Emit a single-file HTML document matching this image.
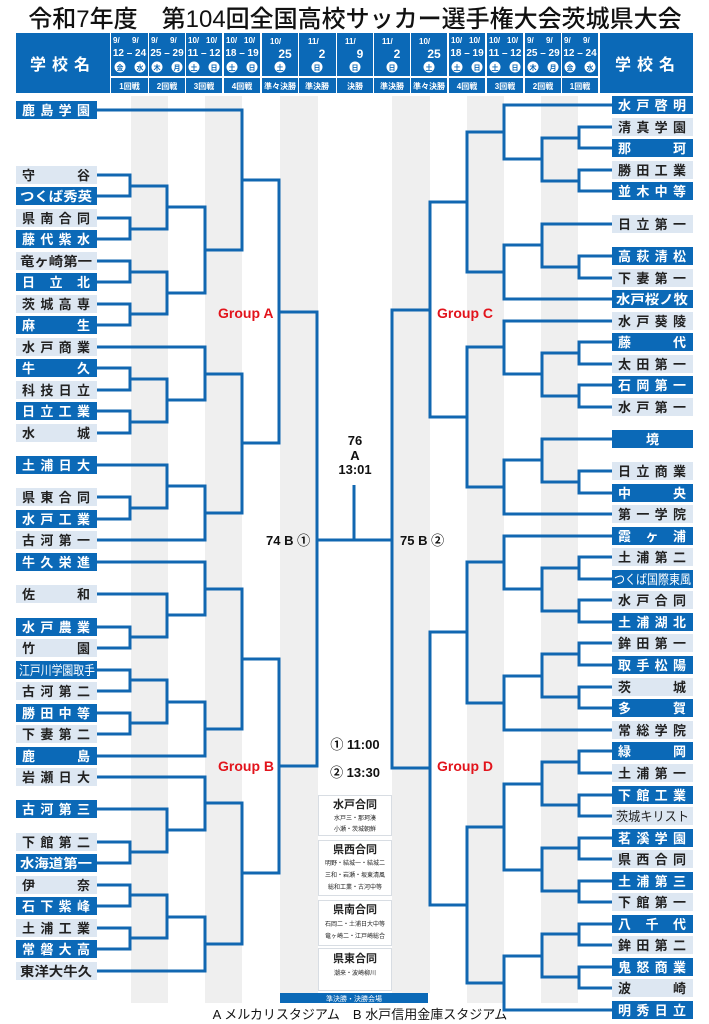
<!DOCTYPE html>
<html><head><meta charset="utf-8"><style>
html,body{margin:0;padding:0;background:#fff}
svg{display:block}
text{font-family:"Liberation Sans","Noto Sans CJK JP",sans-serif}
</style></head><body>
<svg width="709" height="1024" viewBox="0 0 709 1024" xmlns="http://www.w3.org/2000/svg">
<text x="355" y="27" font-size="24" text-anchor="middle" fill="#111" font-family="Liberation Sans,Noto Sans CJK JP,sans-serif" font-weight="500">令和7年度　第104回全国高校サッカー選手権大会茨城県大会</text>

<!-- gray stripes -->
<g fill="#efefef">
<rect x="131" y="96" width="37" height="907"/>
<rect x="205" y="96" width="37" height="907"/>
<rect x="280" y="96" width="38" height="897"/>
<rect x="392" y="96" width="38" height="897"/>
<rect x="467" y="96" width="37" height="907"/>
<rect x="541" y="96" width="37" height="907"/>
</g>

<!-- header -->
<g fill="#0b69b7">
<rect x="16" y="33" width="94" height="60"/>
<rect x="600" y="33" width="93" height="60"/>
</g>
<text x="63" y="70" font-size="16" font-weight="bold" fill="#fff" text-anchor="middle" letter-spacing="6">学校名</text>
<text x="648" y="70" font-size="16" font-weight="bold" fill="#fff" text-anchor="middle" letter-spacing="6">学校名</text>

<g id="hdr" font-weight="bold">
<!-- double cells -->
<g>
<rect x="111" y="33" width="37" height="43" fill="#0b69b7"/><rect x="111" y="78" width="37" height="15" fill="#0b69b7"/>
<text x="113" y="43" font-size="8" fill="#fff">9/</text><text x="132" y="43" font-size="8" fill="#fff">9/</text>
<text x="129.5" y="56" font-size="10" fill="#fff" text-anchor="middle">12 – 24</text>
<circle cx="120" cy="67" r="5.5" fill="#fff"/><circle cx="140" cy="67" r="5.5" fill="#fff"/>
<text x="120" y="70" font-size="7" fill="#0b69b7" text-anchor="middle">金</text><text x="140" y="70" font-size="7" fill="#0b69b7" text-anchor="middle">水</text>
<text x="129.5" y="89" font-size="8" fill="#fff" text-anchor="middle">1回戦</text>
</g>
<g>
<rect x="149" y="33" width="36" height="43" fill="#0b69b7"/><rect x="149" y="78" width="36" height="15" fill="#0b69b7"/>
<text x="151" y="43" font-size="8" fill="#fff">9/</text><text x="170" y="43" font-size="8" fill="#fff">9/</text>
<text x="167" y="56" font-size="10" fill="#fff" text-anchor="middle">25 – 29</text>
<circle cx="157" cy="67" r="5.5" fill="#fff"/><circle cx="177" cy="67" r="5.5" fill="#fff"/>
<text x="157" y="70" font-size="7" fill="#0b69b7" text-anchor="middle">木</text><text x="177" y="70" font-size="7" fill="#0b69b7" text-anchor="middle">月</text>
<text x="167" y="89" font-size="8" fill="#fff" text-anchor="middle">2回戦</text>
</g>
<g>
<rect x="186" y="33" width="36" height="43" fill="#0b69b7"/><rect x="186" y="78" width="36" height="15" fill="#0b69b7"/>
<text x="188" y="43" font-size="8" fill="#fff">10/</text><text x="206" y="43" font-size="8" fill="#fff">10/</text>
<text x="204" y="56" font-size="10" fill="#fff" text-anchor="middle">11 – 12</text>
<circle cx="194" cy="67" r="5.5" fill="#fff"/><circle cx="214" cy="67" r="5.5" fill="#fff"/>
<text x="194" y="70" font-size="7" fill="#0b69b7" text-anchor="middle">土</text><text x="214" y="70" font-size="7" fill="#0b69b7" text-anchor="middle">日</text>
<text x="204" y="89" font-size="8" fill="#fff" text-anchor="middle">3回戦</text>
</g>
<g>
<rect x="224" y="33" width="36" height="43" fill="#0b69b7"/><rect x="224" y="78" width="36" height="15" fill="#0b69b7"/>
<text x="226" y="43" font-size="8" fill="#fff">10/</text><text x="244" y="43" font-size="8" fill="#fff">10/</text>
<text x="242" y="56" font-size="10" fill="#fff" text-anchor="middle">18 – 19</text>
<circle cx="232" cy="67" r="5.5" fill="#fff"/><circle cx="252" cy="67" r="5.5" fill="#fff"/>
<text x="232" y="70" font-size="7" fill="#0b69b7" text-anchor="middle">土</text><text x="252" y="70" font-size="7" fill="#0b69b7" text-anchor="middle">日</text>
<text x="242" y="89" font-size="8" fill="#fff" text-anchor="middle">4回戦</text>
</g>
<!-- single cells -->
<g>
<rect x="262" y="33" width="36" height="43" fill="#0b69b7"/><rect x="262" y="78" width="36" height="15" fill="#0b69b7"/>
<text x="270" y="44" font-size="8" fill="#fff">10/</text><text x="285" y="58" font-size="12" fill="#fff" text-anchor="middle">25</text>
<circle cx="280" cy="67" r="5.5" fill="#fff"/><text x="280" y="70" font-size="7" fill="#0b69b7" text-anchor="middle">土</text>
<text x="280" y="89" font-size="8" fill="#fff" text-anchor="middle">準々決勝</text>
</g>
<g>
<rect x="299" y="33" width="37" height="43" fill="#0b69b7"/><rect x="299" y="78" width="37" height="15" fill="#0b69b7"/>
<text x="308" y="44" font-size="8" fill="#fff">11/</text><text x="322" y="58" font-size="12" fill="#fff" text-anchor="middle">2</text>
<circle cx="317" cy="67" r="5.5" fill="#fff"/><text x="317" y="70" font-size="7" fill="#0b69b7" text-anchor="middle">日</text>
<text x="317" y="89" font-size="8" fill="#fff" text-anchor="middle">準決勝</text>
</g>
<g>
<rect x="337" y="33" width="36" height="43" fill="#0b69b7"/><rect x="337" y="78" width="36" height="15" fill="#0b69b7"/>
<text x="345" y="44" font-size="8" fill="#fff">11/</text><text x="360" y="58" font-size="12" fill="#fff" text-anchor="middle">9</text>
<circle cx="355" cy="67" r="5.5" fill="#fff"/><text x="355" y="70" font-size="7" fill="#0b69b7" text-anchor="middle">日</text>
<text x="355" y="89" font-size="8" fill="#fff" text-anchor="middle">決勝</text>
</g>
<g>
<rect x="374" y="33" width="36" height="43" fill="#0b69b7"/><rect x="374" y="78" width="36" height="15" fill="#0b69b7"/>
<text x="382" y="44" font-size="8" fill="#fff">11/</text><text x="397" y="58" font-size="12" fill="#fff" text-anchor="middle">2</text>
<circle cx="392" cy="67" r="5.5" fill="#fff"/><text x="392" y="70" font-size="7" fill="#0b69b7" text-anchor="middle">日</text>
<text x="392" y="89" font-size="8" fill="#fff" text-anchor="middle">準決勝</text>
</g>
<g>
<rect x="411" y="33" width="36" height="43" fill="#0b69b7"/><rect x="411" y="78" width="36" height="15" fill="#0b69b7"/>
<text x="419" y="44" font-size="8" fill="#fff">10/</text><text x="434" y="58" font-size="12" fill="#fff" text-anchor="middle">25</text>
<circle cx="429" cy="67" r="5.5" fill="#fff"/><text x="429" y="70" font-size="7" fill="#0b69b7" text-anchor="middle">土</text>
<text x="429" y="89" font-size="8" fill="#fff" text-anchor="middle">準々決勝</text>
</g>
<g>
<rect x="449" y="33" width="36" height="43" fill="#0b69b7"/><rect x="449" y="78" width="36" height="15" fill="#0b69b7"/>
<text x="451" y="43" font-size="8" fill="#fff">10/</text><text x="469" y="43" font-size="8" fill="#fff">10/</text>
<text x="467" y="56" font-size="10" fill="#fff" text-anchor="middle">18 – 19</text>
<circle cx="457" cy="67" r="5.5" fill="#fff"/><circle cx="477" cy="67" r="5.5" fill="#fff"/>
<text x="457" y="70" font-size="7" fill="#0b69b7" text-anchor="middle">土</text><text x="477" y="70" font-size="7" fill="#0b69b7" text-anchor="middle">日</text>
<text x="467" y="89" font-size="8" fill="#fff" text-anchor="middle">4回戦</text>
</g>
<g>
<rect x="487" y="33" width="36" height="43" fill="#0b69b7"/><rect x="487" y="78" width="36" height="15" fill="#0b69b7"/>
<text x="489" y="43" font-size="8" fill="#fff">10/</text><text x="507" y="43" font-size="8" fill="#fff">10/</text>
<text x="505" y="56" font-size="10" fill="#fff" text-anchor="middle">11 – 12</text>
<circle cx="495" cy="67" r="5.5" fill="#fff"/><circle cx="515" cy="67" r="5.5" fill="#fff"/>
<text x="495" y="70" font-size="7" fill="#0b69b7" text-anchor="middle">土</text><text x="515" y="70" font-size="7" fill="#0b69b7" text-anchor="middle">日</text>
<text x="505" y="89" font-size="8" fill="#fff" text-anchor="middle">3回戦</text>
</g>
<g>
<rect x="525" y="33" width="36" height="43" fill="#0b69b7"/><rect x="525" y="78" width="36" height="15" fill="#0b69b7"/>
<text x="527" y="43" font-size="8" fill="#fff">9/</text><text x="546" y="43" font-size="8" fill="#fff">9/</text>
<text x="543" y="56" font-size="10" fill="#fff" text-anchor="middle">25 – 29</text>
<circle cx="533" cy="67" r="5.5" fill="#fff"/><circle cx="553" cy="67" r="5.5" fill="#fff"/>
<text x="533" y="70" font-size="7" fill="#0b69b7" text-anchor="middle">木</text><text x="553" y="70" font-size="7" fill="#0b69b7" text-anchor="middle">月</text>
<text x="543" y="89" font-size="8" fill="#fff" text-anchor="middle">2回戦</text>
</g>
<g>
<rect x="562" y="33" width="36" height="43" fill="#0b69b7"/><rect x="562" y="78" width="36" height="15" fill="#0b69b7"/>
<text x="564" y="43" font-size="8" fill="#fff">9/</text><text x="583" y="43" font-size="8" fill="#fff">9/</text>
<text x="580" y="56" font-size="10" fill="#fff" text-anchor="middle">12 – 24</text>
<circle cx="570" cy="67" r="5.5" fill="#fff"/><circle cx="590" cy="67" r="5.5" fill="#fff"/>
<text x="570" y="70" font-size="7" fill="#0b69b7" text-anchor="middle">金</text><text x="590" y="70" font-size="7" fill="#0b69b7" text-anchor="middle">水</text>
<text x="580" y="89" font-size="8" fill="#fff" text-anchor="middle">1回戦</text>
</g>
</g>

<!-- bracket lines -->
<g fill="none" stroke="#1167b1" stroke-width="3" stroke-linejoin="miter">
<!-- Left L1 -->
<path d="M97 175H130V196H97M97 218H130V239H97M97 261H130V282H97M97 304H130V325H97M97 368H130V390H97M97 411H130V433H97M97 497H130V519H97"/>
<path d="M97 627H130V648H97M97 670H130V691H97M97 713H130V734H97M97 842H130V863H97M97 885H130V906H97M97 928H130V949H97"/>
<!-- L2 -->
<path d="M130 186H167V229H130M130 272H167V314H130M130 379H167V422H130M97 465H167V508H130"/>
<path d="M97 594H167V637H130M130 680H167V723H130M97 809H167V852H130M130 895H167V938H130"/>
<!-- L3 -->
<path d="M167 207H205V293H167M97 347H205V400H167M167 486H205V540H97"/>
<path d="M97 562H205V615H167M167 702H205V756H97M97 777H205V830H167M167 917H205V971H97"/>
<!-- L4 -->
<path d="M97 110H242V250H205M205 374H242V513H205M205 589H242V729H205M205 803H242V944H205"/>
<!-- L5 -->
<path d="M242 180H279V443H242M242 659H279V873H242"/>
<!-- L6 -->
<path d="M279 312H317V766H279"/>
<!-- final -->
<path d="M317 540H392M354 540V485"/>
<!-- Right R1 -->
<path d="M612 127H579V148H612M612 170H579V191H612M612 256H579V278H612M612 342H579V364H612M612 385H579V407H612M612 471H579V493H612"/>
<path d="M612 557H579V579H612M612 600H579V622H612M612 643H579V665H612M612 687H579V708H612M612 751H579V773H612M612 795H579V816H612M612 838H579V859H612M612 881H579V902H612M612 924H579V945H612M612 967H579V988H612"/>
<!-- R2 -->
<path d="M579 138H542V181H579M612 224H542V267H579M579 353H542V396H579M612 439H542V482H579"/>
<path d="M579 568H542V611H579M579 654H542V697H579M579 762H542V805H579M579 848H542V891H579M579 934H542V977H579"/>
<!-- R3 -->
<path d="M612 105H504V159H542M542 245H504V299H612M612 321H504V374H542M542 460H504V514H612"/>
<path d="M612 536H504V589H542M542 676H504V730H612M542 784H504V870H542M542 956H504V1010H612"/>
<!-- R4 -->
<path d="M504 132H467V272H504M504 347H467V487H504M504 562H467V703H504M504 827H467V983H504"/>
<!-- R5 -->
<path d="M467 202H430V417H467M467 632H430V905H467"/>
<!-- R6 -->
<path d="M430 310H392V768H430"/>
</g>

<!-- left names -->
<g font-size="13" font-weight="bold">
<g fill="#0b69b7"><rect x="16" y="101" width="81" height="18"/></g>
<text x="22" y="115" fill="#fff" textLength="68" lengthAdjust="spacing">鹿島学園</text>

<rect x="16" y="166" width="81" height="18" fill="#dde7f2"/><text x="22" y="180" fill="#222" textLength="68" lengthAdjust="spacing">守谷</text>
<rect x="16" y="187" width="81" height="18" fill="#0b69b7"/><text x="20" y="201" fill="#fff" textLength="72" lengthAdjust="spacingAndGlyphs">つくば秀英</text>
<rect x="16" y="209" width="81" height="18" fill="#dde7f2"/><text x="22" y="223" fill="#222" textLength="68" lengthAdjust="spacing">県南合同</text>
<rect x="16" y="230" width="81" height="18" fill="#0b69b7"/><text x="22" y="244" fill="#fff" textLength="68" lengthAdjust="spacing">藤代紫水</text>
<rect x="16" y="252" width="81" height="18" fill="#dde7f2"/><text x="20" y="266" fill="#222" textLength="72" lengthAdjust="spacingAndGlyphs">竜ヶ崎第一</text>
<rect x="16" y="273" width="81" height="18" fill="#0b69b7"/><text x="22" y="287" fill="#fff" textLength="68" lengthAdjust="spacing">日立北</text>
<rect x="16" y="295" width="81" height="18" fill="#dde7f2"/><text x="22" y="309" fill="#222" textLength="68" lengthAdjust="spacing">茨城高専</text>
<rect x="16" y="316" width="81" height="18" fill="#0b69b7"/><text x="22" y="330" fill="#fff" textLength="68" lengthAdjust="spacing">麻生</text>
<rect x="16" y="338" width="81" height="18" fill="#dde7f2"/><text x="22" y="352" fill="#222" textLength="68" lengthAdjust="spacing">水戸商業</text>
<rect x="16" y="359" width="81" height="18" fill="#0b69b7"/><text x="22" y="373" fill="#fff" textLength="68" lengthAdjust="spacing">牛久</text>
<rect x="16" y="381" width="81" height="18" fill="#dde7f2"/><text x="22" y="395" fill="#222" textLength="68" lengthAdjust="spacing">科技日立</text>
<rect x="16" y="402" width="81" height="18" fill="#0b69b7"/><text x="22" y="416" fill="#fff" textLength="68" lengthAdjust="spacing">日立工業</text>
<rect x="16" y="424" width="81" height="18" fill="#dde7f2"/><text x="22" y="438" fill="#222" textLength="68" lengthAdjust="spacing">水城</text>
<rect x="16" y="456" width="81" height="18" fill="#0b69b7"/><text x="22" y="470" fill="#fff" textLength="68" lengthAdjust="spacing">土浦日大</text>
<rect x="16" y="488" width="81" height="18" fill="#dde7f2"/><text x="22" y="502" fill="#222" textLength="68" lengthAdjust="spacing">県東合同</text>
<rect x="16" y="510" width="81" height="18" fill="#0b69b7"/><text x="22" y="524" fill="#fff" textLength="68" lengthAdjust="spacing">水戸工業</text>
<rect x="16" y="531" width="81" height="18" fill="#dde7f2"/><text x="22" y="545" fill="#222" textLength="68" lengthAdjust="spacing">古河第一</text>
<rect x="16" y="553" width="81" height="18" fill="#0b69b7"/><text x="22" y="567" fill="#fff" textLength="68" lengthAdjust="spacing">牛久栄進</text>
<rect x="16" y="585" width="81" height="18" fill="#dde7f2"/><text x="22" y="599" fill="#222" textLength="68" lengthAdjust="spacing">佐和</text>
<rect x="16" y="618" width="81" height="18" fill="#0b69b7"/><text x="22" y="632" fill="#fff" textLength="68" lengthAdjust="spacing">水戸農業</text>
<rect x="16" y="639" width="81" height="18" fill="#dde7f2"/><text x="22" y="653" fill="#222" textLength="68" lengthAdjust="spacing">竹園</text>
<rect x="16" y="661" width="81" height="18" fill="#0b69b7"/><text x="19" y="675" fill="#fff" textLength="76" lengthAdjust="spacingAndGlyphs" font-weight="normal">江戸川学園取手</text>
<rect x="16" y="682" width="81" height="18" fill="#dde7f2"/><text x="22" y="696" fill="#222" textLength="68" lengthAdjust="spacing">古河第二</text>
<rect x="16" y="704" width="81" height="18" fill="#0b69b7"/><text x="22" y="718" fill="#fff" textLength="68" lengthAdjust="spacing">勝田中等</text>
<rect x="16" y="725" width="81" height="18" fill="#dde7f2"/><text x="22" y="739" fill="#222" textLength="68" lengthAdjust="spacing">下妻第二</text>
<rect x="16" y="747" width="81" height="18" fill="#0b69b7"/><text x="22" y="761" fill="#fff" textLength="68" lengthAdjust="spacing">鹿島</text>
<rect x="16" y="768" width="81" height="18" fill="#dde7f2"/><text x="22" y="782" fill="#222" textLength="68" lengthAdjust="spacing">岩瀬日大</text>
<rect x="16" y="800" width="81" height="18" fill="#0b69b7"/><text x="22" y="814" fill="#fff" textLength="68" lengthAdjust="spacing">古河第三</text>
<rect x="16" y="833" width="81" height="18" fill="#dde7f2"/><text x="22" y="847" fill="#222" textLength="68" lengthAdjust="spacing">下館第二</text>
<rect x="16" y="854" width="81" height="18" fill="#0b69b7"/><text x="20" y="868" fill="#fff" textLength="72" lengthAdjust="spacingAndGlyphs">水海道第一</text>
<rect x="16" y="876" width="81" height="18" fill="#dde7f2"/><text x="22" y="890" fill="#222" textLength="68" lengthAdjust="spacing">伊奈</text>
<rect x="16" y="897" width="81" height="18" fill="#0b69b7"/><text x="22" y="911" fill="#fff" textLength="68" lengthAdjust="spacing">石下紫峰</text>
<rect x="16" y="919" width="81" height="18" fill="#dde7f2"/><text x="22" y="933" fill="#222" textLength="68" lengthAdjust="spacing">土浦工業</text>
<rect x="16" y="940" width="81" height="18" fill="#0b69b7"/><text x="22" y="954" fill="#fff" textLength="68" lengthAdjust="spacing">常磐大高</text>
<rect x="16" y="962" width="81" height="18" fill="#dde7f2"/><text x="20" y="976" fill="#222" textLength="72" lengthAdjust="spacingAndGlyphs">東洋大牛久</text>
</g>

<!-- right names -->
<g font-size="13" font-weight="bold">
<rect x="612" y="96" width="81" height="18" fill="#0b69b7"/><text x="618" y="110" fill="#fff" textLength="68" lengthAdjust="spacing">水戸啓明</text>
<rect x="612" y="118" width="81" height="18" fill="#dde7f2"/><text x="618" y="132" fill="#222" textLength="68" lengthAdjust="spacing">清真学園</text>
<rect x="612" y="139" width="81" height="18" fill="#0b69b7"/><text x="618" y="153" fill="#fff" textLength="68" lengthAdjust="spacing">那珂</text>
<rect x="612" y="161" width="81" height="18" fill="#dde7f2"/><text x="618" y="175" fill="#222" textLength="68" lengthAdjust="spacing">勝田工業</text>
<rect x="612" y="182" width="81" height="18" fill="#0b69b7"/><text x="618" y="196" fill="#fff" textLength="68" lengthAdjust="spacing">並木中等</text>
<rect x="612" y="215" width="81" height="18" fill="#dde7f2"/><text x="618" y="229" fill="#222" textLength="68" lengthAdjust="spacing">日立第一</text>
<rect x="612" y="247" width="81" height="18" fill="#0b69b7"/><text x="618" y="261" fill="#fff" textLength="68" lengthAdjust="spacing">高萩清松</text>
<rect x="612" y="269" width="81" height="18" fill="#dde7f2"/><text x="618" y="283" fill="#222" textLength="68" lengthAdjust="spacing">下妻第一</text>
<rect x="612" y="290" width="81" height="18" fill="#0b69b7"/><text x="616" y="304" fill="#fff" textLength="72" lengthAdjust="spacingAndGlyphs">水戸桜ノ牧</text>
<rect x="612" y="312" width="81" height="18" fill="#dde7f2"/><text x="618" y="326" fill="#222" textLength="68" lengthAdjust="spacing">水戸葵陵</text>
<rect x="612" y="333" width="81" height="18" fill="#0b69b7"/><text x="618" y="347" fill="#fff" textLength="68" lengthAdjust="spacing">藤代</text>
<rect x="612" y="355" width="81" height="18" fill="#dde7f2"/><text x="618" y="369" fill="#222" textLength="68" lengthAdjust="spacing">太田第一</text>
<rect x="612" y="376" width="81" height="18" fill="#0b69b7"/><text x="618" y="390" fill="#fff" textLength="68" lengthAdjust="spacing">石岡第一</text>
<rect x="612" y="398" width="81" height="18" fill="#dde7f2"/><text x="618" y="412" fill="#222" textLength="68" lengthAdjust="spacing">水戸第一</text>
<rect x="612" y="430" width="81" height="18" fill="#0b69b7"/><text x="652.5" y="444" fill="#fff" text-anchor="middle">境</text>
<rect x="612" y="462" width="81" height="18" fill="#dde7f2"/><text x="618" y="476" fill="#222" textLength="68" lengthAdjust="spacing">日立商業</text>
<rect x="612" y="484" width="81" height="18" fill="#0b69b7"/><text x="618" y="498" fill="#fff" textLength="68" lengthAdjust="spacing">中央</text>
<rect x="612" y="505" width="81" height="18" fill="#dde7f2"/><text x="618" y="519" fill="#222" textLength="68" lengthAdjust="spacing">第一学院</text>
<rect x="612" y="527" width="81" height="18" fill="#0b69b7"/><text x="618" y="541" fill="#fff" textLength="68" lengthAdjust="spacing">霞ヶ浦</text>
<rect x="612" y="548" width="81" height="18" fill="#dde7f2"/><text x="618" y="562" fill="#222" textLength="68" lengthAdjust="spacing">土浦第二</text>
<rect x="612" y="570" width="81" height="18" fill="#0b69b7"/><text x="614" y="584" fill="#fff" textLength="77" lengthAdjust="spacingAndGlyphs" font-weight="normal">つくば国際東風</text>
<rect x="612" y="591" width="81" height="18" fill="#dde7f2"/><text x="618" y="605" fill="#222" textLength="68" lengthAdjust="spacing">水戸合同</text>
<rect x="612" y="613" width="81" height="18" fill="#0b69b7"/><text x="618" y="627" fill="#fff" textLength="68" lengthAdjust="spacing">土浦湖北</text>
<rect x="612" y="634" width="81" height="18" fill="#dde7f2"/><text x="618" y="648" fill="#222" textLength="68" lengthAdjust="spacing">鉾田第一</text>
<rect x="612" y="656" width="81" height="18" fill="#0b69b7"/><text x="618" y="670" fill="#fff" textLength="68" lengthAdjust="spacing">取手松陽</text>
<rect x="612" y="678" width="81" height="18" fill="#dde7f2"/><text x="618" y="692" fill="#222" textLength="68" lengthAdjust="spacing">茨城</text>
<rect x="612" y="699" width="81" height="18" fill="#0b69b7"/><text x="618" y="713" fill="#fff" textLength="68" lengthAdjust="spacing">多賀</text>
<rect x="612" y="721" width="81" height="18" fill="#dde7f2"/><text x="618" y="735" fill="#222" textLength="68" lengthAdjust="spacing">常総学院</text>
<rect x="612" y="742" width="81" height="18" fill="#0b69b7"/><text x="618" y="756" fill="#fff" textLength="68" lengthAdjust="spacing">緑岡</text>
<rect x="612" y="764" width="81" height="18" fill="#dde7f2"/><text x="618" y="778" fill="#222" textLength="68" lengthAdjust="spacing">土浦第一</text>
<rect x="612" y="786" width="81" height="18" fill="#0b69b7"/><text x="618" y="800" fill="#fff" textLength="68" lengthAdjust="spacing">下館工業</text>
<rect x="612" y="807" width="81" height="18" fill="#dde7f2"/><text x="616" y="821" fill="#222" textLength="73" lengthAdjust="spacingAndGlyphs" font-weight="normal">茨城キリスト</text>
<rect x="612" y="829" width="81" height="18" fill="#0b69b7"/><text x="618" y="843" fill="#fff" textLength="68" lengthAdjust="spacing">茗溪学園</text>
<rect x="612" y="850" width="81" height="18" fill="#dde7f2"/><text x="618" y="864" fill="#222" textLength="68" lengthAdjust="spacing">県西合同</text>
<rect x="612" y="872" width="81" height="18" fill="#0b69b7"/><text x="618" y="886" fill="#fff" textLength="68" lengthAdjust="spacing">土浦第三</text>
<rect x="612" y="893" width="81" height="18" fill="#dde7f2"/><text x="618" y="907" fill="#222" textLength="68" lengthAdjust="spacing">下館第一</text>
<rect x="612" y="915" width="81" height="18" fill="#0b69b7"/><text x="618" y="929" fill="#fff" textLength="68" lengthAdjust="spacing">八千代</text>
<rect x="612" y="936" width="81" height="18" fill="#dde7f2"/><text x="618" y="950" fill="#222" textLength="68" lengthAdjust="spacing">鉾田第二</text>
<rect x="612" y="958" width="81" height="18" fill="#0b69b7"/><text x="618" y="972" fill="#fff" textLength="68" lengthAdjust="spacing">鬼怒商業</text>
<rect x="612" y="979" width="81" height="18" fill="#dde7f2"/><text x="618" y="993" fill="#222" textLength="68" lengthAdjust="spacing">波崎</text>
<rect x="612" y="1001" width="81" height="18" fill="#0b69b7"/><text x="618" y="1015" fill="#fff" textLength="68" lengthAdjust="spacing">明秀日立</text>
</g>

<!-- group labels -->
<g font-size="14" font-weight="bold" fill="#e2141c">
<text x="218" y="318">Group A</text>
<text x="218" y="771">Group B</text>
<text x="437" y="318">Group C</text>
<text x="437" y="771">Group D</text>
</g>
<g font-size="13" font-weight="bold" fill="#111">
<text x="266" y="545">74 B ①</text>
<text x="400" y="545">75 B ②</text>
<text x="355" y="445" text-anchor="middle">76</text>
<text x="355" y="460" text-anchor="middle">A</text>
<text x="355" y="474" text-anchor="middle">13:01</text>
<text x="355" y="749" text-anchor="middle">① 11:00</text>
<text x="355" y="777" text-anchor="middle">② 13:30</text>
</g>

<!-- info boxes -->
<g fill="#fff" stroke="#d8dde3" stroke-width="1">
<rect x="318.5" y="795.5" width="73" height="40"/>
<rect x="318.5" y="840.5" width="73" height="55"/>
<rect x="318.5" y="900.5" width="73" height="45"/>
<rect x="318.5" y="948.5" width="73" height="42"/>
</g>
<g fill="#222" text-anchor="middle">
<text x="355" y="808" font-size="11" font-weight="bold">水戸合同</text>
<text x="355" y="820" font-size="6">水戸三・那珂湊</text>
<text x="355" y="831" font-size="6">小瀬・茨城朝鮮</text>
<text x="355" y="853" font-size="11" font-weight="bold">県西合同</text>
<text x="355" y="865" font-size="6">明野・結城一・結城二</text>
<text x="355" y="877" font-size="6">三和・岩瀬・坂東清風</text>
<text x="355" y="889" font-size="6">総和工業・古河中等</text>
<text x="355" y="913" font-size="11" font-weight="bold">県南合同</text>
<text x="355" y="926" font-size="6">石岡二・土浦日大中等</text>
<text x="355" y="938" font-size="6">竜ヶ崎二・江戸崎総合</text>
<text x="355" y="962" font-size="11" font-weight="bold">県東合同</text>
<text x="355" y="975" font-size="6">潮来・波崎柳川</text>
</g>
<rect x="280" y="993" width="148" height="10" fill="#0b69b7"/>
<text x="354" y="1001" font-size="7" fill="#fff" text-anchor="middle">準決勝・決勝会場</text>
<text x="360" y="1019" font-size="13" fill="#111" text-anchor="middle">A  メルカリスタジアム　B  水戸信用金庫スタジアム</text>
</svg>
</body></html>
